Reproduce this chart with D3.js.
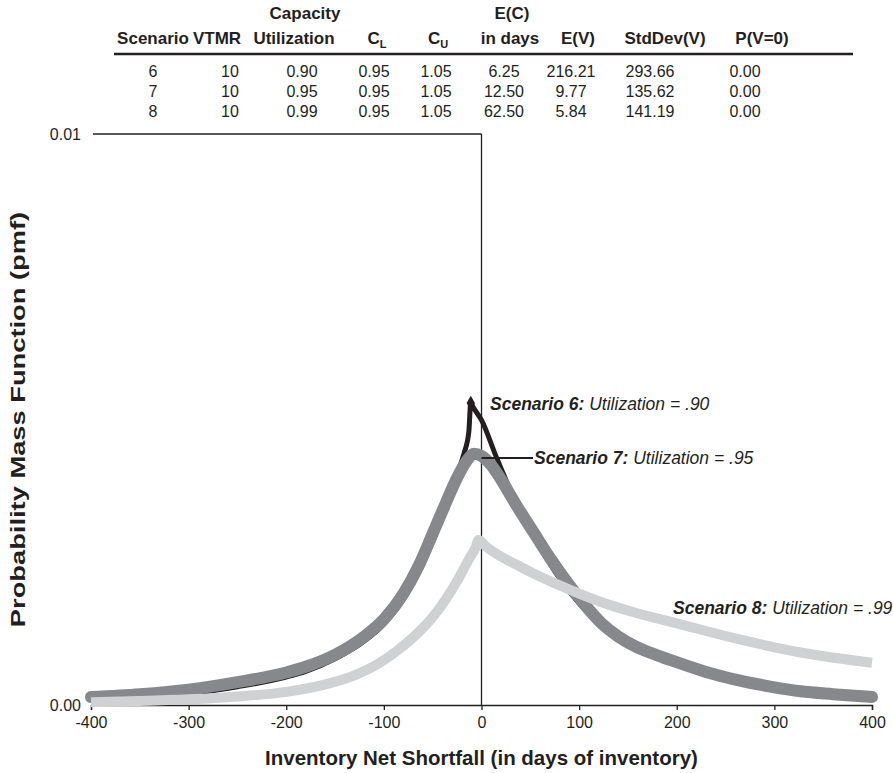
<!DOCTYPE html>
<html><head><meta charset="utf-8">
<script src="https://cdnjs.cloudflare.com/ajax/libs/d3/7.8.5/d3.min.js"></script>
<style>
html,body{margin:0;padding:0;background:#fff;}
svg{display:block;font-family:"Liberation Sans",Arial,Helvetica,sans-serif;}
</style></head>
<body><svg id="chart" width="893" height="773"></svg>
<script>
// ---- Table data ----
const tableHeaders1 = ["", "", "Capacity", "", "", "E(C)", "", "", ""];
const tableHeaders2 = ["Scenario", "VTMR", "Utilization", "C_L", "C_U", "in days", "E(V)", "StdDev(V)", "P(V=0)"];
const tableRows = [
  ["6", "10", "0.90", "0.95", "1.05", "6.25", "216.21", "293.66", "0.00"],
  ["7", "10", "0.95", "0.95", "1.05", "12.50", "9.77", "135.62", "0.00"],
  ["8", "10", "0.99", "0.95", "1.05", "62.50", "5.84", "141.19", "0.00"]
];

// ---- Axis ticks ----
const xTicks = [-400, -300, -200, -100, 0, 100, 200, 300, 400];
const yTicks = [0, 0.01];

// ---- Series (x in days, pmf) ----
const s6x = [-400,-350,-300,-250,-200,-180,-150,-120,-100,-80,-60,-40,-25,-18,-13,-11,-8,0,15,31,45,60,80,100,130,160,200,260,330,400];
const s6y = [0.00010,0.00014,0.00020,0.00032,0.00049,0.00059,0.00081,0.00112,0.00142,0.00185,0.00248,0.00330,0.00405,0.00440,0.00478,0.00529,0.00520,0.00499,0.00435,0.00371,0.00322,0.00276,0.00222,0.00178,0.00130,0.00099,0.00071,0.00040,0.00020,0.00011];

const s7x = [-400,-350,-300,-250,-200,-180,-150,-120,-100,-80,-64,-50,-37,-25,-15,-8,0,10,20,35,55,70,89,105,123,140,157,180,200,230,259,300,327,360,400];
const s7y = [0.00014,0.00019,0.00027,0.00040,0.00057,0.00067,0.00088,0.00120,0.00150,0.00195,0.00245,0.00300,0.00352,0.00398,0.00428,0.00440,0.00436,0.00420,0.00395,0.00352,0.00298,0.00258,0.00212,0.00177,0.00143,0.00120,0.00103,0.00087,0.00075,0.00058,0.00045,0.00031,0.00024,0.00019,0.00014];

const s8x = [-400,-350,-300,-250,-200,-156,-130,-105,-85,-64,-50,-37,-25,-13,-6,-3,5,20,40,55,89,123,157,200,259,327,400];
const s8y = [0.00005,0.00007,0.00010,0.00015,0.00023,0.00038,0.00052,0.00073,0.00097,0.00128,0.00154,0.00184,0.00217,0.00255,0.00276,0.00289,0.00277,0.00260,0.00242,0.00229,0.00203,0.00180,0.00162,0.00143,0.00117,0.00092,0.00074];

const seriesNames = ["Scenario 6:", "Scenario 7:", "Scenario 8:"];
const seriesNotes = [" Utilization = .90", " Utilization = .95", " Utilization = .99"];

const svg = d3.select("#chart");
const x = d3.scaleLinear().domain([-400, 400]).range([91, 872]);
const y = d3.scaleLinear().domain([0, 0.01]).range([705, 134]);
const ink = "#231f20";

// ---- Table ----
const valX = [153, 230, 302, 374, 436, 504, 571, 650, 745];
const hdrX = [153, 217, 294, 377, 438, 510, 578, 665, 762];
const hdr1X = [0, 0, 305, 0, 0, 512, 0, 0, 0];
const tbl = svg.append("g").attr("fill", ink);
tableHeaders1.forEach((h, i) => {
  if (h) tbl.append("text").attr("x", hdr1X[i]).attr("y", 19).attr("text-anchor","middle").attr("font-weight","bold").attr("font-size",17).text(h);
});
tableHeaders2.forEach((h, i) => {
  const t = tbl.append("text").attr("x", hdrX[i]).attr("y", 44).attr("text-anchor","middle").attr("font-weight","bold").attr("font-size",17);
  if (h.indexOf("_") > 0) {
    const [a, b] = h.split("_");
    t.append("tspan").text(a);
    t.append("tspan").attr("font-size", 11).attr("dy", 4).text(b);
  } else t.text(h);
});
tbl.append("line").attr("x1",114).attr("x2",853).attr("y1",54).attr("y2",54).attr("stroke",ink).attr("stroke-width",2.5);
tableRows.forEach((r, j) => {
  r.forEach((v, i) => {
    tbl.append("text").attr("x", valX[i]).attr("y", 77 + j*20).attr("text-anchor","middle").attr("font-size",16).text(v);
  });
});

// ---- Axes ----
const ax = svg.append("g").attr("transform", `translate(0,${y(0)})`)
  .call(d3.axisBottom(x).tickValues(xTicks).tickSize(5).tickPadding(7).tickFormat(d => String(d)));
ax.select(".domain").attr("stroke",ink).attr("stroke-width",1.3);
ax.selectAll(".tick line").attr("stroke",ink).attr("stroke-width",1.3);
ax.selectAll(".tick text").attr("font-size",16).attr("fill",ink).attr("font-family","'Liberation Sans',Arial,sans-serif");

// vertical axis at x=0
svg.append("line").attr("x1", x(0)).attr("x2", x(0)).attr("y1", y(0.01)).attr("y2", y(0)).attr("stroke",ink).attr("stroke-width",1.3);
// top line at 0.01
svg.append("line").attr("x1", 93).attr("x2", x(0)).attr("y1", y(0.01)).attr("y2", y(0.01)).attr("stroke",ink).attr("stroke-width",1.3);

yTicks.forEach(v => {
  svg.append("text").attr("x", 81).attr("y", y(v)).attr("dy","0.35em").attr("text-anchor","end")
    .attr("font-size",16).attr("fill",ink).text(d3.format(".2f")(v));
});

// ---- Lines ----
const line = d3.line().x(d => x(d[0])).y(d => y(d[1])).curve(d3.curveMonotoneX);
const zip = (a, b) => a.map((v, i) => [v, b[i]]);
const plot = svg.append("g");
plot.append("path").datum(zip(s6x, s6y)).attr("d", line).attr("fill","none").attr("stroke",ink).attr("stroke-width",5).attr("stroke-linejoin","round").attr("stroke-linecap","round");
plot.append("path").attr("d", d3.symbol().type(d3.symbolDiamond).size(60)).attr("transform", `translate(${x(-11)},${y(0.00529)})`).attr("fill",ink);
plot.append("path").datum(zip(s7x, s7y)).attr("d", line).attr("fill","none").attr("stroke","#87888c").attr("stroke-width",12).attr("stroke-linejoin","round").attr("stroke-linecap","round");
plot.append("path").datum(zip(s8x, s8y)).attr("d", line).attr("fill","none").attr("stroke","#d0d1d3").attr("stroke-width",10).attr("stroke-linejoin","round").attr("stroke-linecap","butt");

// ---- Annotations ----
svg.append("line").attr("x1", x(0)).attr("x2", 533).attr("y1", 458).attr("y2", 458).attr("stroke",ink).attr("stroke-width",2);
const labPos = [[490, 410], [534, 464], [673, 614]];
labPos.forEach((p, i) => {
  const t = svg.append("text").attr("x", p[0]).attr("y", p[1]).attr("font-size", 17.5).attr("font-style","italic").attr("fill",ink);
  t.append("tspan").attr("font-weight","bold").text(seriesNames[i]);
  t.append("tspan").text(seriesNotes[i]);
});

// ---- Axis titles ----
svg.append("text").attr("x", x(0)).attr("y", 765).attr("text-anchor","middle").attr("font-size",20.5).attr("font-weight","bold").attr("fill",ink).text("Inventory Net Shortfall (in days of inventory)");
svg.append("text").attr("transform", `translate(25,${(y(0)+y(0.01))/2}) rotate(-90) scale(1.3,1)`).attr("text-anchor","middle").attr("font-size",21).attr("font-weight","bold").attr("fill",ink).text("Probability Mass Function (pmf)");
</script></body></html>
